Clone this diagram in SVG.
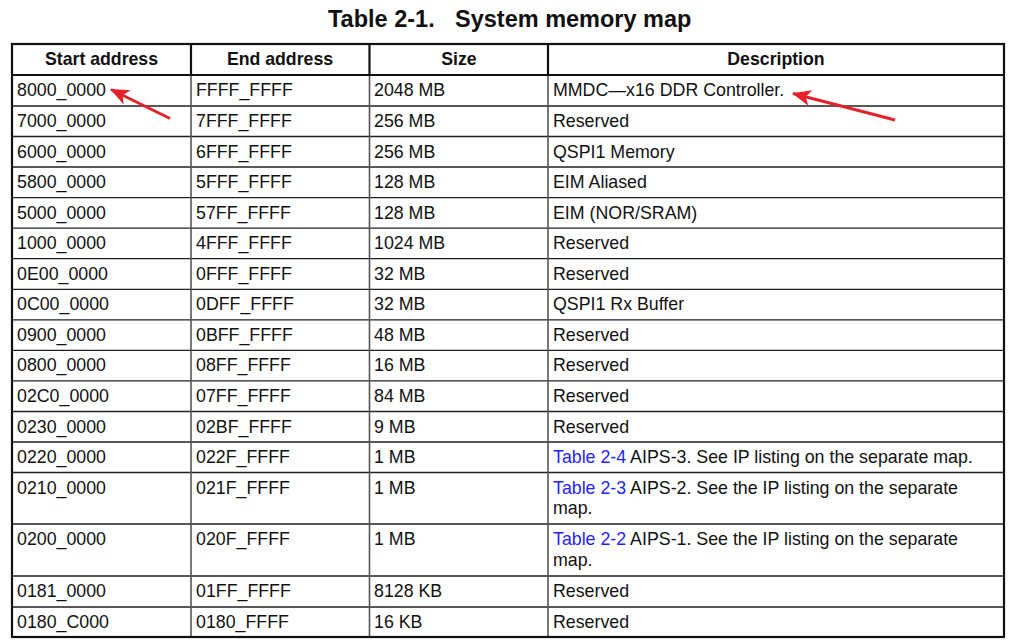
<svg xmlns="http://www.w3.org/2000/svg" width="1009" height="642" viewBox="0 0 1009 642">
<style>
.t{font-family:"Liberation Sans",Arial,sans-serif;font-size:17.8px;fill:#111}
.h{font-family:"Liberation Sans",Arial,sans-serif;font-size:17.7px;font-weight:bold;fill:#111;text-anchor:middle}
.ttl{font-family:"Liberation Sans",Arial,sans-serif;font-size:23.5px;font-weight:bold;fill:#111}
.lnk{fill:#1f1fff}
.hl{stroke:#222;stroke-width:1.3;fill:none}
.vl{stroke:#555;stroke-width:1.6;fill:none}
.bd{stroke:#111;stroke-width:2.2;fill:none}
.arr{stroke:#e5222b;stroke-width:3;fill:none;marker-end:url(#ah)}
</style>
<defs>
<marker id="ah" markerUnits="userSpaceOnUse" markerWidth="22" markerHeight="18" refX="18" refY="8" orient="auto">
<path d="M0,0 L19,8 L0,16 L5,8 Z" fill="#e5222b"/>
</marker>
</defs>
<rect width="1009" height="642" fill="#fff"/>
<g id="title">
<text class="ttl" x="328" y="27">Table 2-1.</text>
<text class="ttl" x="455" y="27">System memory map</text>
</g>
<g id="grid">
<path class="hl" d="M12,106H1004M12,136.5H1004M12,167H1004M12,197.6H1004M12,228.2H1004M12,258.7H1004M12,289.3H1004M12,319.8H1004M12,350.4H1004M12,380.9H1004M12,411.5H1004M12,442H1004M12,472.5H1004M12,524H1004M12,576H1004M12,607H1004"/>
<path class="vl" d="M191,75V637M369.5,75V637M548,75V637"/>
<path class="bd" d="M191,44V75M369.5,44V75M548,44V75M12,75H1004"/>
<rect class="bd" x="12" y="44" width="992" height="593"/>
</g>
<g id="header">
<text class="h" x="101.5" y="65">Start address</text>
<text class="h" x="280" y="65">End address</text>
<text class="h" x="459" y="65">Size</text>
<text class="h" x="776" y="65">Description</text>
</g>
<g id="row1"><text class="t" x="17" y="96">8000_0000</text><text class="t" x="196" y="96">FFFF_FFFF</text><text class="t" x="374" y="96">2048 MB</text><text class="t" x="553" y="96">MMDC—x16 DDR Controller.</text></g>
<g id="row2"><text class="t" x="17" y="127">7000_0000</text><text class="t" x="196" y="127">7FFF_FFFF</text><text class="t" x="374" y="127">256 MB</text><text class="t" x="553" y="127">Reserved</text></g>
<g id="row3"><text class="t" x="17" y="157.5">6000_0000</text><text class="t" x="196" y="157.5">6FFF_FFFF</text><text class="t" x="374" y="157.5">256 MB</text><text class="t" x="553" y="157.5">QSPI1 Memory</text></g>
<g id="row4"><text class="t" x="17" y="188">5800_0000</text><text class="t" x="196" y="188">5FFF_FFFF</text><text class="t" x="374" y="188">128 MB</text><text class="t" x="553" y="188">EIM Aliased</text></g>
<g id="row5"><text class="t" x="17" y="218.6">5000_0000</text><text class="t" x="196" y="218.6">57FF_FFFF</text><text class="t" x="374" y="218.6">128 MB</text><text class="t" x="553" y="218.6">EIM (NOR/SRAM)</text></g>
<g id="row6"><text class="t" x="17" y="249.2">1000_0000</text><text class="t" x="196" y="249.2">4FFF_FFFF</text><text class="t" x="374" y="249.2">1024 MB</text><text class="t" x="553" y="249.2">Reserved</text></g>
<g id="row7"><text class="t" x="17" y="279.7">0E00_0000</text><text class="t" x="196" y="279.7">0FFF_FFFF</text><text class="t" x="374" y="279.7">32 MB</text><text class="t" x="553" y="279.7">Reserved</text></g>
<g id="row8"><text class="t" x="17" y="310.3">0C00_0000</text><text class="t" x="196" y="310.3">0DFF_FFFF</text><text class="t" x="374" y="310.3">32 MB</text><text class="t" x="553" y="310.3">QSPI1 Rx Buffer</text></g>
<g id="row9"><text class="t" x="17" y="340.8">0900_0000</text><text class="t" x="196" y="340.8">0BFF_FFFF</text><text class="t" x="374" y="340.8">48 MB</text><text class="t" x="553" y="340.8">Reserved</text></g>
<g id="row10"><text class="t" x="17" y="371.4">0800_0000</text><text class="t" x="196" y="371.4">08FF_FFFF</text><text class="t" x="374" y="371.4">16 MB</text><text class="t" x="553" y="371.4">Reserved</text></g>
<g id="row11"><text class="t" x="17" y="401.9">02C0_0000</text><text class="t" x="196" y="401.9">07FF_FFFF</text><text class="t" x="374" y="401.9">84 MB</text><text class="t" x="553" y="401.9">Reserved</text></g>
<g id="row12"><text class="t" x="17" y="432.5">0230_0000</text><text class="t" x="196" y="432.5">02BF_FFFF</text><text class="t" x="374" y="432.5">9 MB</text><text class="t" x="553" y="432.5">Reserved</text></g>
<g id="row13"><text class="t" x="17" y="463">0220_0000</text><text class="t" x="196" y="463">022F_FFFF</text><text class="t" x="374" y="463">1 MB</text><text class="t" x="553" y="463"><tspan class="lnk">Table 2-4</tspan> AIPS-3. See IP listing on the separate map.</text></g>
<g id="row14"><text class="t" x="17" y="493.5">0210_0000</text><text class="t" x="196" y="493.5">021F_FFFF</text><text class="t" x="374" y="493.5">1 MB</text><text class="t" x="553" y="493.5"><tspan class="lnk">Table 2-3</tspan> AIPS-2. See the IP listing on the separate</text><text class="t" x="553" y="514">map.</text></g>
<g id="row15"><text class="t" x="17" y="545">0200_0000</text><text class="t" x="196" y="545">020F_FFFF</text><text class="t" x="374" y="545">1 MB</text><text class="t" x="553" y="545"><tspan class="lnk">Table 2-2</tspan> AIPS-1. See the IP listing on the separate</text><text class="t" x="553" y="566">map.</text></g>
<g id="row16"><text class="t" x="17" y="597">0181_0000</text><text class="t" x="196" y="597">01FF_FFFF</text><text class="t" x="374" y="597">8128 KB</text><text class="t" x="553" y="597">Reserved</text></g>
<g id="row17"><text class="t" x="17" y="628">0180_C000</text><text class="t" x="196" y="628">0180_FFFF</text><text class="t" x="374" y="628">16 KB</text><text class="t" x="553" y="628">Reserved</text></g>
<g id="connectors">
<line class="arr" x1="170" y1="118.5" x2="111" y2="89.5"/>
<line class="arr" x1="895" y1="120" x2="793" y2="93.5"/>
</g>
</svg>
